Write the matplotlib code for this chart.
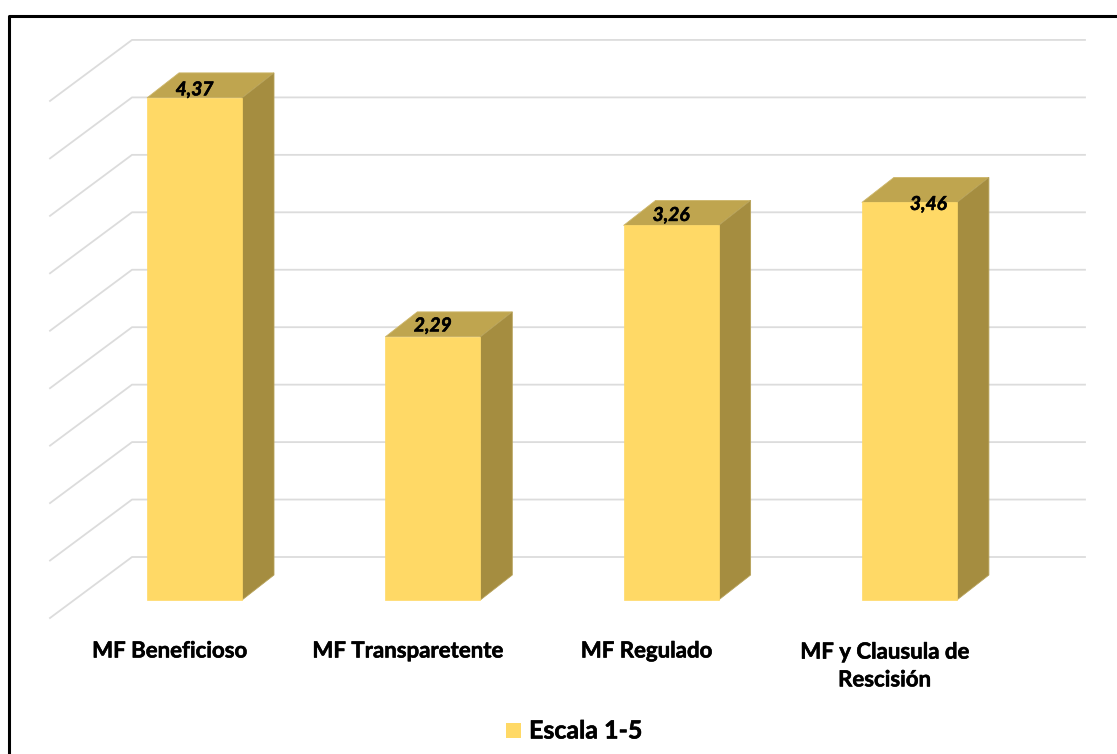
# 3D looking column chart, escala 1-5

import matplotlib.pyplot as plt
import matplotlib.patheffects as pe
from matplotlib.patches import Polygon, Rectangle

categories = ["MF Beneficioso", "MF Transparetente", "MF Regulado", "MF y Clausula de\nRescisión"]
values = [4.37, 2.29, 3.26, 3.46]
value_labels = ["4,37", "2,29", "3,26", "3,46"]
grid_values = [0, 0.5, 1, 1.5, 2, 2.5, 3, 3.5, 4, 4.5]
legend_label = "Escala 1-5"

# label shift from the middle of the top front edge, in pixels
label_dx = [0, 0, 0, 19]
label_dy = [-8, -11, -10, 2]
cat_y = [651, 651, 651, 666]

px_per_unit = 114.9
bar_base = 600
back_base = 557

plt.rcParams["font.family"] = ["Lato", "DejaVu Sans"]

fig = plt.figure(figsize=(11.17, 7.54), dpi=100)
ax = fig.add_axes([0, 0, 1, 1])
ax.set_xlim(0, 1117)
ax.set_ylim(754, 0)
ax.axis("off")

heavy = [pe.withStroke(linewidth=0.4, foreground="black")]

# frame, only top and left show
ax.plot([9, 9, 1117], [754, 16, 16], color="black", lw=2.2, zorder=1)

# back wall and side wall lines
for v in grid_values:
    y = back_base - v * px_per_unit
    ax.plot([50, 132, 1085], [y + 61, y, y], color="#dcdcdc", lw=1.3, zorder=2)

for i, v in enumerate(values):
    x0 = 147 + i * 238.3
    x1 = x0 + 95
    mid = (x0 + x1) / 2
    top = bar_base - v * px_per_unit
    dx, dy = 32, 25
    ax.add_patch(Polygon([(x0, top), (x1, top), (x1 + dx, top - dy), (x0 + dx, top - dy)],
                         fc="#bfa54f", ec="#cdb66a", lw=0.6, zorder=3))
    ax.add_patch(Polygon([(x1, top), (x1 + dx, top - dy), (x1 + dx, bar_base - dy), (x1, bar_base)],
                         fc="#a58d40", ec="#b7a25a", lw=0.6, zorder=3))
    ax.add_patch(Rectangle((x0, top), 95, v * px_per_unit, fc="#ffd966", ec="#ffd966", lw=0.5, zorder=4))
    ax.text(mid + label_dx[i], top + label_dy[i], value_labels[i], fontsize=13.8,
            fontweight="bold", fontstyle="italic", ha="center", va="center", color="black",
            path_effects=heavy, zorder=5)
    ax.text(mid - 24.5, cat_y[i], categories[i], fontsize=16, fontweight="bold", ha="center",
            va="center", color="black", linespacing=1.4, path_effects=heavy, zorder=5)

# legend
ax.add_patch(Rectangle((506, 723), 15, 15, fc="#ffd966", ec="none", zorder=5))
ax.text(529, 731, legend_label, fontsize=18, fontweight="bold", ha="left", va="center", color="black",
        path_effects=heavy)

fig.savefig("out.png", dpi=100)
